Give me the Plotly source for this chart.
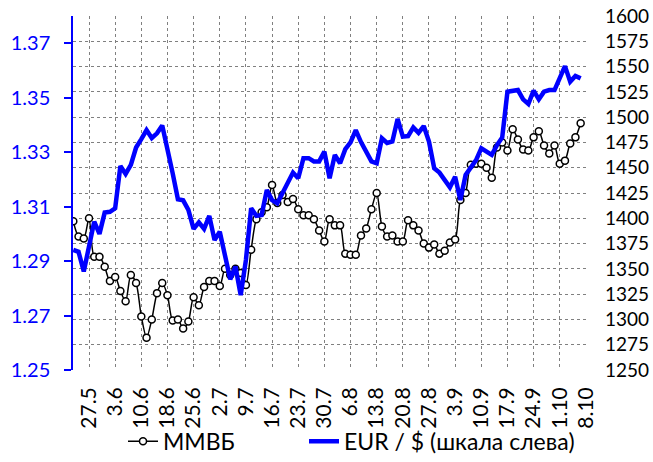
import plotly.graph_objects as go

tick_labels = ["27.5", "3.6", "10.6", "18.6", "25.6", "2.7", "9.7", "16.7", "23.7", "30.7",
               "6.8", "13.8", "20.8", "27.8", "3.9", "10.9", "17.9", "24.9", "1.10", "8.10"]
tick_index = [3 + 5 * i for i in range(len(tick_labels))]

mmvb = [1397, 1382, 1380, 1400, 1362, 1362, 1352, 1338, 1342, 1328,
        1318, 1344, 1336, 1303, 1282, 1300, 1326, 1336, 1324, 1299,
        1300, 1291, 1298, 1322, 1314, 1332, 1338, 1338, 1333, 1350,
        1344, 1350, 1346, 1334, 1369, 1399, 1406, 1411, 1433, 1415,
        1423, 1416, 1419, 1409, 1403, 1403, 1399, 1388, 1377, 1399,
        1393, 1393, 1365, 1364, 1364, 1383, 1390, 1409, 1425, 1392,
        1382, 1383, 1377, 1377, 1398, 1393, 1388, 1375, 1371, 1374,
        1365, 1368, 1376, 1379, 1418, 1425, 1453, 1454, 1454, 1450,
        1440, 1470, 1475, 1467, 1488, 1478, 1468, 1467, 1480, 1486,
        1472, 1464, 1472, 1454, 1457, 1474, 1480, 1494]

eurusd = [1.2941, 1.2934, 1.2862, 1.2955, 1.3045, 1.3000, 1.3078, 1.3081, 1.3094, 1.3249,
          1.3220, 1.3253, 1.3317, 1.3348, 1.3381, 1.3352, 1.3369, 1.3398, 1.3300, 1.3222,
          1.3127, 1.3123, 1.3088, 1.3018, 1.3042, 1.3018, 1.3066, 1.2977, 1.3008, 1.2928,
          1.2833, 1.2880, 1.2775, 1.2904, 1.3094, 1.3066, 1.3069, 1.3161, 1.3124, 1.3112,
          1.3150, 1.3188, 1.3225, 1.3204, 1.3278, 1.3278, 1.3266, 1.3266, 1.3302, 1.3204,
          1.3290, 1.3259, 1.3311, 1.3336, 1.3381, 1.3337, 1.3300, 1.3266, 1.3259, 1.3351,
          1.3334, 1.3339, 1.3422, 1.3357, 1.3359, 1.3391, 1.3371, 1.3396, 1.3339, 1.3241,
          1.3225, 1.3200, 1.3171, 1.3210, 1.3124, 1.3216, 1.3245, 1.3271, 1.3314, 1.3302,
          1.3290, 1.3326, 1.3354, 1.3522, 1.3526, 1.3528, 1.3494, 1.3477, 1.3526, 1.3494,
          1.3522, 1.3528, 1.3528, 1.3577, 1.3616, 1.3559, 1.3580, 1.3571]

left_ticks = [1.25, 1.27, 1.29, 1.31, 1.33, 1.35, 1.37]
right_ticks = list(range(1250, 1601, 25))

x = list(range(len(mmvb)))
FONT = "Lato, 'Noto Sans', sans-serif"

fig = go.Figure()
fig.add_trace(go.Scatter(
    x=x, y=mmvb, name="ММВБ", yaxis="y", legend="legend",
    mode="lines+markers",
    line=dict(color="black", width=1.5, shape="spline", smoothing=0.8),
    marker=dict(symbol="circle", size=7, color="white",
                line=dict(color="black", width=1.5)),
))
fig.add_trace(go.Scatter(
    x=x, y=eurusd, name="EUR / $ (шкала слева)", yaxis="y2", legend="legend2",
    mode="lines",
    line=dict(color="#0000FF", width=4.5),
))

legend_common = dict(orientation="h", xanchor="left",
                     yref="container", y=0.045, yanchor="middle",
                     xref="container",
                     font=dict(family=FONT, size=23, color="black"),
                     bgcolor="rgba(0,0,0,0)", borderwidth=0)

fig.update_layout(
    width=653, height=462,
    margin=dict(l=73, r=67, t=16, b=92, autoexpand=False),
    paper_bgcolor="white", plot_bgcolor="white",
    font=dict(family=FONT, size=20, color="black"),
    showlegend=True,
    legend=dict(x=123 / 653, **legend_common),
    legend2=dict(x=304 / 653, **legend_common),
    xaxis=dict(
        range=[-0.06, 98.02], automargin=False,
        tickmode="array", tickvals=tick_index, ticktext=tick_labels,
        tickangle=-90, ticks="", ticklen=0, showline=False, zeroline=False,
        showgrid=True, gridcolor="#808080", griddash="3px,3px", gridwidth=1,
        ticklabelstandoff=12,
        tickfont=dict(family=FONT, size=21, color="black"),
    ),
    yaxis=dict(
        side="right", range=[1250, 1600], automargin=False,
        tickmode="array", tickvals=right_ticks,
        ticks="", ticklen=0, showline=False, zeroline=False,
        showgrid=True, gridcolor="#808080", griddash="3px,3px", gridwidth=1,
        ticklabelstandoff=18,
        tickfont=dict(family=FONT, size=19, color="black"),
    ),
    yaxis2=dict(
        side="left", overlaying="y", range=[1.25, 1.38], automargin=False,
        tickmode="array", tickvals=left_ticks, tickformat=".2f",
        ticks="outside", ticklen=7, tickcolor="#0000FF", tickwidth=1.5,
        showline=True, linecolor="#0000FF", linewidth=1.5,
        showgrid=False, zeroline=False,
        ticklabelstandoff=10,
        tickfont=dict(family=FONT, size=20, color="#0000FF"),
    ),
)

fig.write_html("out.html", config={"displayModeBar": False},
               post_script="document.body.style.margin='0';document.body.style.padding='0';")
